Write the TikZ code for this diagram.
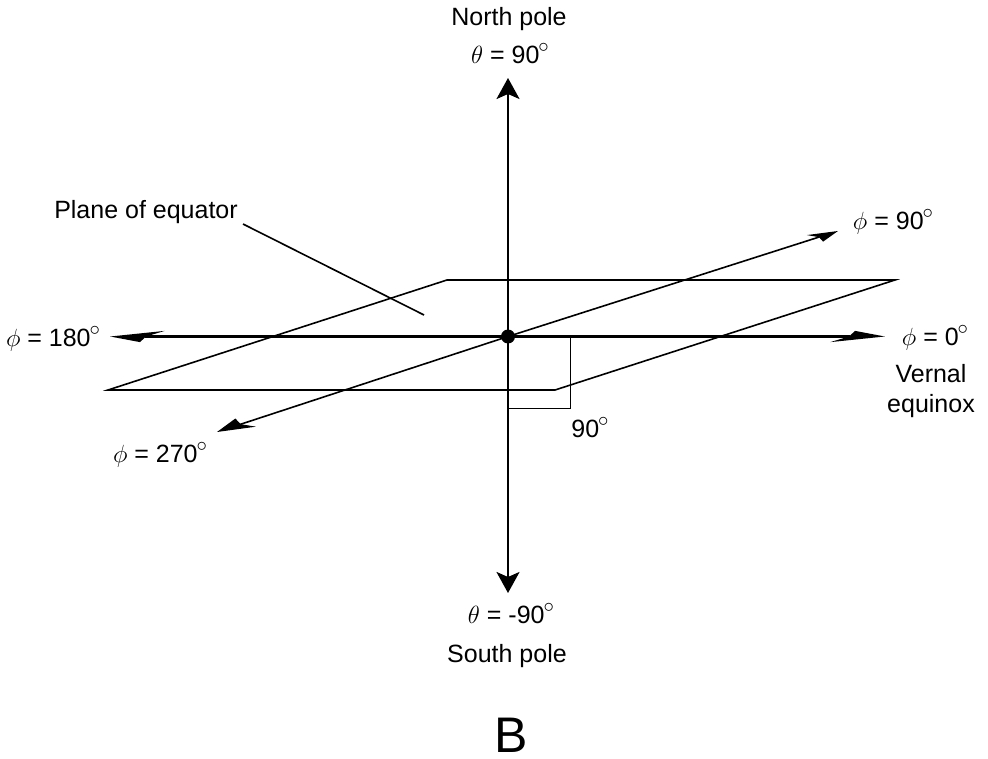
\documentclass[tikz,border=0pt]{standalone}
\usepackage{fontspec}
\setmainfont{Liberation Sans}
\usetikzlibrary{arrows.meta}
\newcommand{\degmark}{\hspace{-1pt}\raisebox{11pt}{\fontsize{22}{22}\selectfont$\circ$}}
\tikzset{
    lbl/.style={font=\fontsize{25}{29}\selectfont, inner sep=0pt, anchor=base},
    axis/.style={line width=2.2pt},
    plane/.style={line width=1.6pt},
    thin line/.style={line width=1pt},
    pole tip/.style={-{Stealth[length=21pt, width=23pt, inset=5pt]}},
}
\begin{document}
\begin{tikzpicture}[x=1pt, y=-1pt]
    \useasboundingbox (0,0) rectangle (988,759);
    % Ebene:
    \coordinate (pa) at (447,280);
    \coordinate (pb) at (895,280);
    \coordinate (pc) at (555,390);
    \coordinate (pd) at (108,390);
    \draw[plane, line join=miter] (pa) -- (pb) -- (pc) -- (pd) -- cycle;
    % Achsen:
    \coordinate (north) at (508,78);
    \coordinate (south) at (508,593);
    \coordinate (east) at (885,336.5);
    \coordinate (west) at (110,336.5);
    \coordinate (ne) at (838,231);
    \coordinate (sw) at (217,432);
    \node[circle, fill=black, inner sep=0pt, minimum size=14pt] (origin) at (508,336.5) {};
    \draw[axis, pole tip] (origin.center) -- (north);
    \draw[axis, pole tip] (origin.center) -- (south);
    \draw[line width=2.8pt, -{Stealth[length=42pt, width=11pt, inset=6pt, slant=2.2]}] (origin.center) -- (east);
    \draw[line width=2.8pt, -{Stealth[length=42pt, width=11pt, inset=6pt, slant=2.2]}] (origin.center) -- (west);
    \draw[plane, -{Stealth[length=24pt, width=11pt, inset=4pt, slant=-1.2]}] (origin.center) -- (ne);
    \draw[plane, -{Stealth[length=30pt, width=14pt, inset=5pt, slant=-1.2]}] (origin.center) -- (sw);
    % rechter Winkel:
    \coordinate (ra) at (570,337);
    \coordinate (rb) at (570,408);
    \coordinate (rc) at (508,408);
    \draw[thin line] (ra) -- (rb) -- (rc);
    % Zeiger zur Ebene:
    \coordinate (lead) at (243,224);
    \coordinate (leadend) at (424,315);
    \draw[plane] (lead) -- (leadend);
    % Texte:
    \node[lbl] (northlabel) at (509,26) {North pole};
    \node[lbl] (northangle) at (510,64) {$\theta$ = 90\degmark};
    \node[lbl] (southangle) at (511,623) {$\theta$ = -90\degmark};
    \node[lbl] (southlabel) at (507,662) {South pole};
    \node[lbl] (planelabel) at (146,219) {Plane of equator};
    \node[lbl] (ninety) at (893,230) {$\phi$ = 90\degmark};
    \node[lbl] (zero) at (935,345) {$\phi$ = 0\degmark};
    \node[lbl] (vernal) at (931,382) {Vernal};
    \node[lbl] (equinox) at (931,412) {equinox};
    \node[lbl] (rightangle) at (590,437) {90\degmark};
    \node[lbl] (oneeighty) at (53,346) {$\phi$ = 180\degmark};
    \node[lbl] (twoseventy) at (160,462) {$\phi$ = 270\degmark};
    \node[font=\fontsize{50}{58}\selectfont, inner sep=0pt, anchor=base] (panel) at (511,752) {B};
\end{tikzpicture}
\end{document}
